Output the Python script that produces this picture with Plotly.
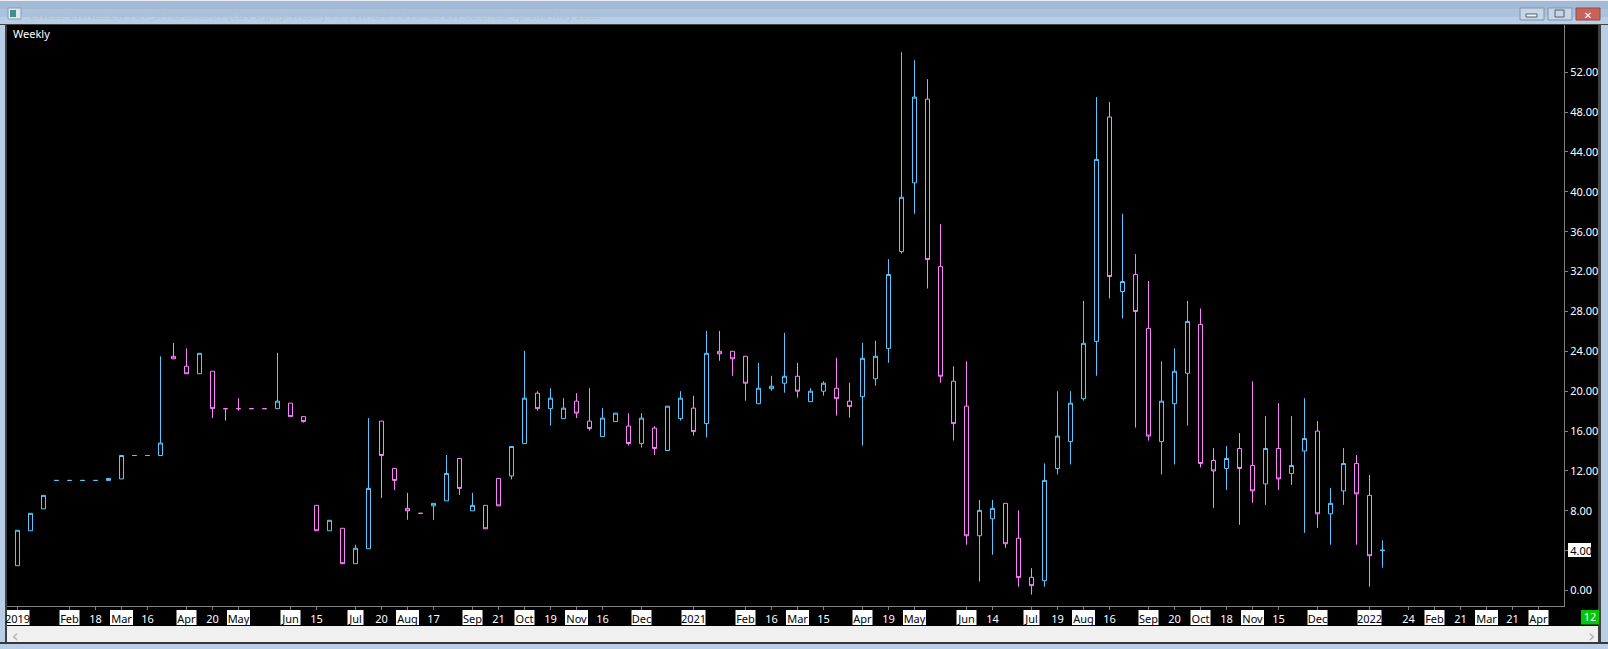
import plotly.graph_objects as go

bars = list(range(106))
opens = [2.5,6.0,8.2,11.05,11.05,11.05,11.05,11.05,11.2,13.55,13.55,13.55,23.5,22.5,21.75,22,18.25,18.25,18.25,18.25,
 18.25,18.8,17.45,8.55,6.0,6.25,2.7,4.2,17,12.25,8.25,7.75,8.5,9.0,13.25,8.0,8.55,11.25,11.5,14.75,
 19.8,18.25,17.25,19,17,15.45,16.95,16.5,14.75,16.3,14.05,17.25,18.3,16.75,24,24,23.5,18.75,20.25,20.8,
 21.5,18.95,20,20.3,19,19.45,21.25,24.3,34,40.9,49.3,32.5,21,18.5,5.5,7.2,8.75,5.25,1.33,1.0,
 12.25,14.95,19.25,25,47.5,30,31.7,26.3,14.95,18.75,21.8,26.7,13.05,12.25,14.25,12.55,10.7,14.25,11.75,14,
 16,7.7,10,12.75,9.55,4.0]
highs = [6.05,7.75,9.55,11.05,11.05,11.05,11.05,11.25,13.55,13.55,13.55,23.5,24.85,24.3,23.8,22,18.25,19.3,18.25,18.25,
 23.85,18.8,17.45,8.55,7.05,6.25,4.6,17.3,17,12.25,9.8,7.75,8.75,13.6,13.25,9.8,8.55,11.25,14.45,24.05,
 20,20.3,19.3,19.8,20.3,18.3,17.8,17.8,17.8,16.5,18.5,20,19.55,26.05,26.05,24,23.5,22.85,21.55,25.85,
 22.85,20.3,21,23.35,20.85,24.85,25.05,33.25,54.0,53.2,51.3,36.75,22.5,23,9.1,9.1,8.75,8.05,2.25,12.75,
 20,20,29.05,49.5,49,37.8,33.75,31.05,23,24.3,29.05,28.3,14.3,14.5,15.8,21,17.5,18.8,17.5,19.3,
 17,10.3,14.3,13.6,11.6,5.05]
lows = [2.5,6.0,8.2,11.05,11.05,11.05,11.05,11.05,11.2,13.55,13.55,13.55,23.25,21.75,21.75,17.3,17.05,18.05,18.25,18.25,
 18.25,17.45,16.85,6.0,6.0,2.7,2.7,4.2,9.3,10.1,7.1,7.75,7.1,9.0,9.6,8.0,6.2,8.5,11.15,14.75,
 18.05,16.55,17.25,17.3,16.05,15.45,16.95,14.55,14.35,13.6,14.05,17.05,15.55,15.35,23.05,21.55,19.05,18.75,20.05,19.85,
 19.35,18.95,19.55,17.55,17.35,14.55,20.55,22.85,33.8,37.8,30.3,20.85,15.05,4.6,0.9,3.6,4.3,0.4,-0.4,0.4,
 11.65,12.65,19.05,21.55,29.3,27.3,16.35,15.05,11.65,12.65,16.55,12.35,8.3,10.1,6.6,8.8,8.6,10.1,10.6,5.8,
 6.3,4.6,8.6,4.6,0.4,2.3]
closes = [6.05,7.75,9.55,11.05,11.05,11.05,11.05,11.25,13.55,13.55,13.55,14.8,23.25,21.75,23.8,18.25,18.25,18.25,18.25,18.25,
 19,17.45,16.95,6.0,7.05,2.7,4.25,10.25,13.55,11.05,8.0,7.75,8.75,11.75,10.25,8.55,6.2,8.5,14.45,19.3,
 18.25,19.3,18.3,17.8,16.25,17.3,17.8,14.75,17.3,14.25,18.5,19.3,15.95,23.8,23.75,23.25,20.8,20.3,20.5,21.5,
 20,20,20.8,19.25,18.45,23.3,23.5,31.7,39.45,49.5,33.2,21.5,16.75,5.5,8.05,8.25,4.7,1.3,0.5,11.05,
 15.5,18.8,24.8,43.25,31.5,31,28,15.5,19,22,27,12.75,12,13.25,12.25,10,14.25,11.2,12.55,15.25,
 7.7,8.75,12.75,9.7,3.5,4.05]

tick_bars = [0,4,6,8,10,13,15,17,21,23,26,28,30,32,35,37,39,41,43,45,48,52,56,58,60,62,65,67,69,73,75,78,80,82,84,87,89,91,93,95,97,100,104,107,109,111,113,115,117]
tick_labels = ["2019","Feb","18","Mar","16","Apr","20","May","Jun","15","Jul","20","Aug","17","Sep","21","Oct","19","Nov","16","Dec","2021","Feb","16","Mar","15","Apr","19","May","Jun","14","Jul","19","Aug","16","Sep","20","Oct","18","Nov","15","Dec","2022","24","Feb","21","Mar","21","Apr"]
price_ticks = [0,4,8,12,16,20,24,28,32,36,40,44,48,52]
last_price = 4
title_text = "ZWZ22-ZWN22.2W FUT_SPREAD.CBOT [CBV-D][M], Weekly #1 | WHEAT FUTURES 2W Calendar spread May 2022"

W, H = 1608, 649
L, R, T, B = 7, 1564, 25, 606
FONT = "Noto Sans"
BLUE, PINK = "#5AC8FF", "#FF80FF"

def px(x): return (x - L) / (R - L)
def py(y): return 1 - (y - T) / (B - T)
def rect(x0, y0, x1, y1, fill, line=None, text=None, pos="middle center", color="#FFFFFF", size=11, family=FONT, pad=0):
    s = dict(type="rect", xref="paper", yref="paper", x0=px(x0), x1=px(x1), y0=py(y0), y1=py(y1),
             fillcolor=fill, line=dict(color=line or fill, width=1 if line else 0), layer="below")
    if text:
        s["label"] = dict(text=text, textposition=pos, padding=pad, font=dict(family=family, size=size, color=color))
    return s

def is_month(s):
    return not s.isdigit() or len(s) == 4
ticktext = [f'<span style="color:#000000">{s}</span>' if is_month(s) else s for s in tick_labels]

shapes = [
    rect(0, 0, W, 1, "#E8EEF4"),
    rect(0, 1, W, 9, "#A3BAD6"),
    rect(0, 9, W, 17, "#ABC2DE"),
    rect(0, 17, W, 24, "#B8CEE7"),
    rect(27, 8, 660, 22, "rgba(0,0,0,0)", text=title_text, pos="middle left", color="#B3BFCC", size=11),
    rect(0, 24, W, 25, "#444444"),
    rect(0, 25, 5, H, "#B8CEE7"),
    rect(5, 25, 7, 643, "#404040"),
    rect(1598, 25, 1601, 643, "#404040"),
    rect(1601, 25, W, H, "#B8CEE7"),
    rect(7, 626, 1598, 642, "#F0F0F0"),
    rect(8, 626, 22, 642, "rgba(0,0,0,0)", text="‹", color="#B0B0B0", size=18, family="DejaVu Sans"),
    rect(1585, 626, 1598, 642, "rgba(0,0,0,0)", text="›", color="#B0B0B0", size=18, family="DejaVu Sans"),
    rect(0, 642, W, 644, "#383838"),
    rect(0, 644, W, H, "#B8CEE7"),
    rect(8, 8, 21, 19, "#DDE6EE", "#8C9CAC"),
    rect(10, 10, 16, 17, "#3F8F8F"),
    rect(1520, 8, 1544, 20, "#C4D6E8", "#7F93A8"),
    rect(1526, 14, 1537, 17, "#F4F7FA", "#55606C"),
    rect(1548, 8, 1572, 20, "#C4D6E8", "#7F93A8"),
    rect(1555, 10, 1564, 17, "#C4D6E8", "#55606C"),
    rect(1576, 8, 1600, 20, "#C9625A", "#8E4A44", text="✕", size=10, family="DejaVu Sans"),
    rect(1581, 610, 1599, 624.5, "#00C800", text="12"),
    rect(1568, 543, 1591, 557, "#FFFFFF"),
    rect(10, 27, 80, 42, "rgba(0,0,0,0)", text="Weekly", pos="middle left"),
]
# white plates behind month labels on the time scale
for k, s in zip(tick_bars, tick_labels):
    if is_month(s):
        w = 24 if len(s) == 4 else (23 if s in ("Mar", "May", "Nov", "Aug") else (16 if s == "Jul" else 20))
        shapes.append(dict(type="rect", xref="x", yref="paper", xsizemode="pixel", xanchor=k, x0=-w/2, x1=w/2,
                           y0=py(610), y1=py(625), fillcolor="#FFFFFF", line=dict(width=0), layer="below"))

fig = go.Figure(go.Candlestick(
    x=bars, open=opens, high=highs, low=lows, close=closes,
    increasing=dict(line=dict(color=BLUE, width=1), fillcolor="rgba(0,0,0,0)"),
    decreasing=dict(line=dict(color=PINK, width=1), fillcolor="rgba(0,0,0,0)"),
    whiskerwidth=0, hoverinfo="skip", showlegend=False,
))

y_text = [f'<span style="color:#000000">{v:.2f}</span>' if v == last_price else f"{v:.2f}" for v in price_ticks]

fig.update_layout(
    width=W, height=H, autosize=False,
    margin=dict(l=L, r=W - R, t=T, b=H - B, pad=0),
    paper_bgcolor="#000000", plot_bgcolor="#000000",
    boxgap=0.6923, boxgroupgap=0, showlegend=False, shapes=shapes,
    font=dict(family=FONT, size=11, color="#FFFFFF"),
    xaxis=dict(range=[(L - 17.5) / 13, (R - 17.5) / 13], rangeslider=dict(visible=False), automargin=False, tickmode="array",
               tickvals=tick_bars, ticktext=ticktext, tickangle=0, ticks="outside", ticklen=3, tickcolor="#808080", tickwidth=1,
               showline=True, linecolor="#808080", linewidth=1, showgrid=False, zeroline=False,
               tickfont=dict(family=FONT, size=11, color="#FFFFFF")),
    yaxis=dict(range=[(590.6 - B) / 9.97, (590.6 - T) / 9.97], side="right", automargin=False, tickmode="array", tickvals=price_ticks, ticktext=y_text,
               ticks="outside", ticklen=3, tickcolor="#808080", tickwidth=1, showline=True, linecolor="#808080", linewidth=1,
               showgrid=False, zeroline=False, tickfont=dict(family=FONT, size=11, color="#FFFFFF")),
)
fig.write_html("out.html", config={"displayModeBar": False},
               post_script="document.body.style.margin='0';document.documentElement.style.background='#000';")
